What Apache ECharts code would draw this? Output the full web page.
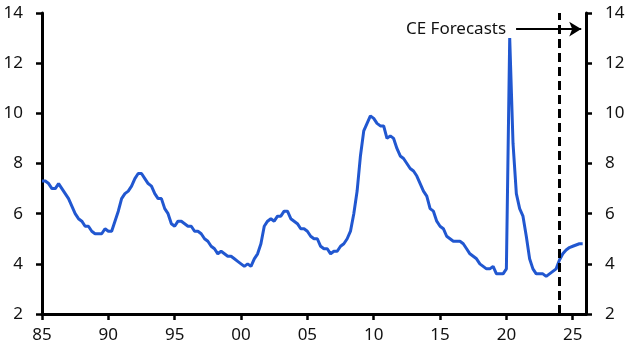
<!DOCTYPE html>
<html>
<head>
<meta charset="utf-8">
<script src="https://cdn.jsdelivr.net/npm/echarts@6/dist/echarts.min.js"></script>
<style>html,body{margin:0;padding:0;background:#fff}#c{width:629px;height:355px}</style>
</head>
<body>
<div id="c"></div>
<script>
// Quarterly unemployment rate (%), 1985Q1 onward
const startYear = 1985;
const actual = [
  7.3, 7.3, 7.2, 7.0,   // 1985
  7.0, 7.2, 7.0, 6.8,   // 1986
  6.6, 6.3, 6.0, 5.8,   // 1987
  5.7, 5.5, 5.5, 5.3,   // 1988
  5.2, 5.2, 5.2, 5.4,   // 1989
  5.3, 5.3, 5.7, 6.1,   // 1990
  6.6, 6.8, 6.9, 7.1,   // 1991
  7.4, 7.6, 7.6, 7.4,   // 1992
  7.2, 7.1, 6.8, 6.6,   // 1993
  6.6, 6.2, 6.0, 5.6,   // 1994
  5.5, 5.7, 5.7, 5.6,   // 1995
  5.5, 5.5, 5.3, 5.3,   // 1996
  5.2, 5.0, 4.9, 4.7,   // 1997
  4.6, 4.4, 4.5, 4.4,   // 1998
  4.3, 4.3, 4.2, 4.1,   // 1999
  4.0, 3.9, 4.0, 3.9,   // 2000
  4.2, 4.4, 4.8, 5.5,   // 2001
  5.7, 5.8, 5.7, 5.9,   // 2002
  5.9, 6.1, 6.1, 5.8,   // 2003
  5.7, 5.6, 5.4, 5.4,   // 2004
  5.3, 5.1, 5.0, 5.0,   // 2005
  4.7, 4.6, 4.6, 4.4,   // 2006
  4.5, 4.5, 4.7, 4.8,   // 2007
  5.0, 5.3, 6.0, 6.9,   // 2008
  8.3, 9.3, 9.6, 9.9,   // 2009
  9.8, 9.6, 9.5, 9.5,   // 2010
  9.0, 9.1, 9.0, 8.6,   // 2011
  8.3, 8.2, 8.0, 7.8,   // 2012
  7.7, 7.5, 7.2, 6.9,   // 2013
  6.7, 6.2, 6.1, 5.7,   // 2014
  5.5, 5.4, 5.1, 5.0,   // 2015
  4.9, 4.9, 4.9, 4.8,   // 2016
  4.6, 4.4, 4.3, 4.2,   // 2017
  4.0, 3.9, 3.8, 3.8,   // 2018
  3.9, 3.6, 3.6, 3.6,   // 2019
  3.8, 13.0, 8.8, 6.8,  // 2020
  6.2, 5.9, 5.1, 4.2,   // 2021
  3.8, 3.6, 3.6, 3.6,   // 2022
  3.5, 3.6, 3.7, 3.8    // 2023
];
const forecast = [
  4.15, 4.4, 4.55, 4.65, // 2024
  4.7, 4.75, 4.8, 4.8    // 2025
];
const forecastStart = 2024;
const xMin = 1985, xMax = 2026, xStep = 5;
const yMin = 2, yMax = 14, yStep = 2;
const annotationText = 'CE Forecasts';
const arrowFrom = [2020.73, 13.36];
const arrowTo = [2025.64, 13.36];

const values = actual.concat(forecast);
const seriesData = values.map((v, i) => [startYear + i / 4, v]);

const font = 'Noto Sans';
const axisCommon = {
  axisLine: { show: true, lineStyle: { color: '#000', width: 3 } },
  axisTick: { show: true, inside: false, length: 6, lineStyle: { color: '#000', width: 2.5 } },
  splitLine: { show: false }
};

const chart = echarts.init(document.getElementById('c'), null, { renderer: 'canvas' });
chart.setOption({
  animation: false,
  backgroundColor: '#fff',
  grid: { left: 42, right: 43, top: 13, bottom: 41, containLabel: false },
  xAxis: Object.assign({
    type: 'value', min: xMin, max: xMax, interval: xStep,
    axisLabel: {
      margin: 13, color: '#111', fontFamily: font, fontSize: 17, showMaxLabel: false,
      formatter: v => (v % 5 === 0 ? String(v % 100).padStart(2, '0') : '')
    }
  }, axisCommon),
  yAxis: [
    Object.assign({
      type: 'value', min: yMin, max: yMax, interval: yStep, position: 'left',
      axisLabel: { margin: 19, color: '#111', fontFamily: font, fontSize: 17 }
    }, axisCommon),
    Object.assign({
      type: 'value', min: yMin, max: yMax, interval: yStep, position: 'right',
      axisLabel: { margin: 19, color: '#111', fontFamily: font, fontSize: 17 }
    }, axisCommon)
  ],
  series: [{
    type: 'line',
    data: seriesData,
    showSymbol: false,
    symbol: 'none',
    lineStyle: { color: '#2157d0', width: 3 },
    z: 3,
    markLine: {
      silent: true,
      symbol: 'none',
      animation: false,
      data: [
        { xAxis: forecastStart, lineStyle: { color: '#000', width: 3, type: [9, 5] }, label: { show: false } },
        [
          { coord: arrowFrom, symbol: 'none' },
          { coord: arrowTo, symbol: 'arrow', symbolSize: [11, 12] }
        ]
      ],
      lineStyle: { color: '#000', width: 2, type: 'solid' },
      label: {
        show: true, position: 'start', distance: 10,
        formatter: annotationText, color: '#111', fontFamily: font, fontSize: 17,
        padding: [0, 0, 7, 0]
      }
    }
  }]
});
</script>
</body>
</html>
